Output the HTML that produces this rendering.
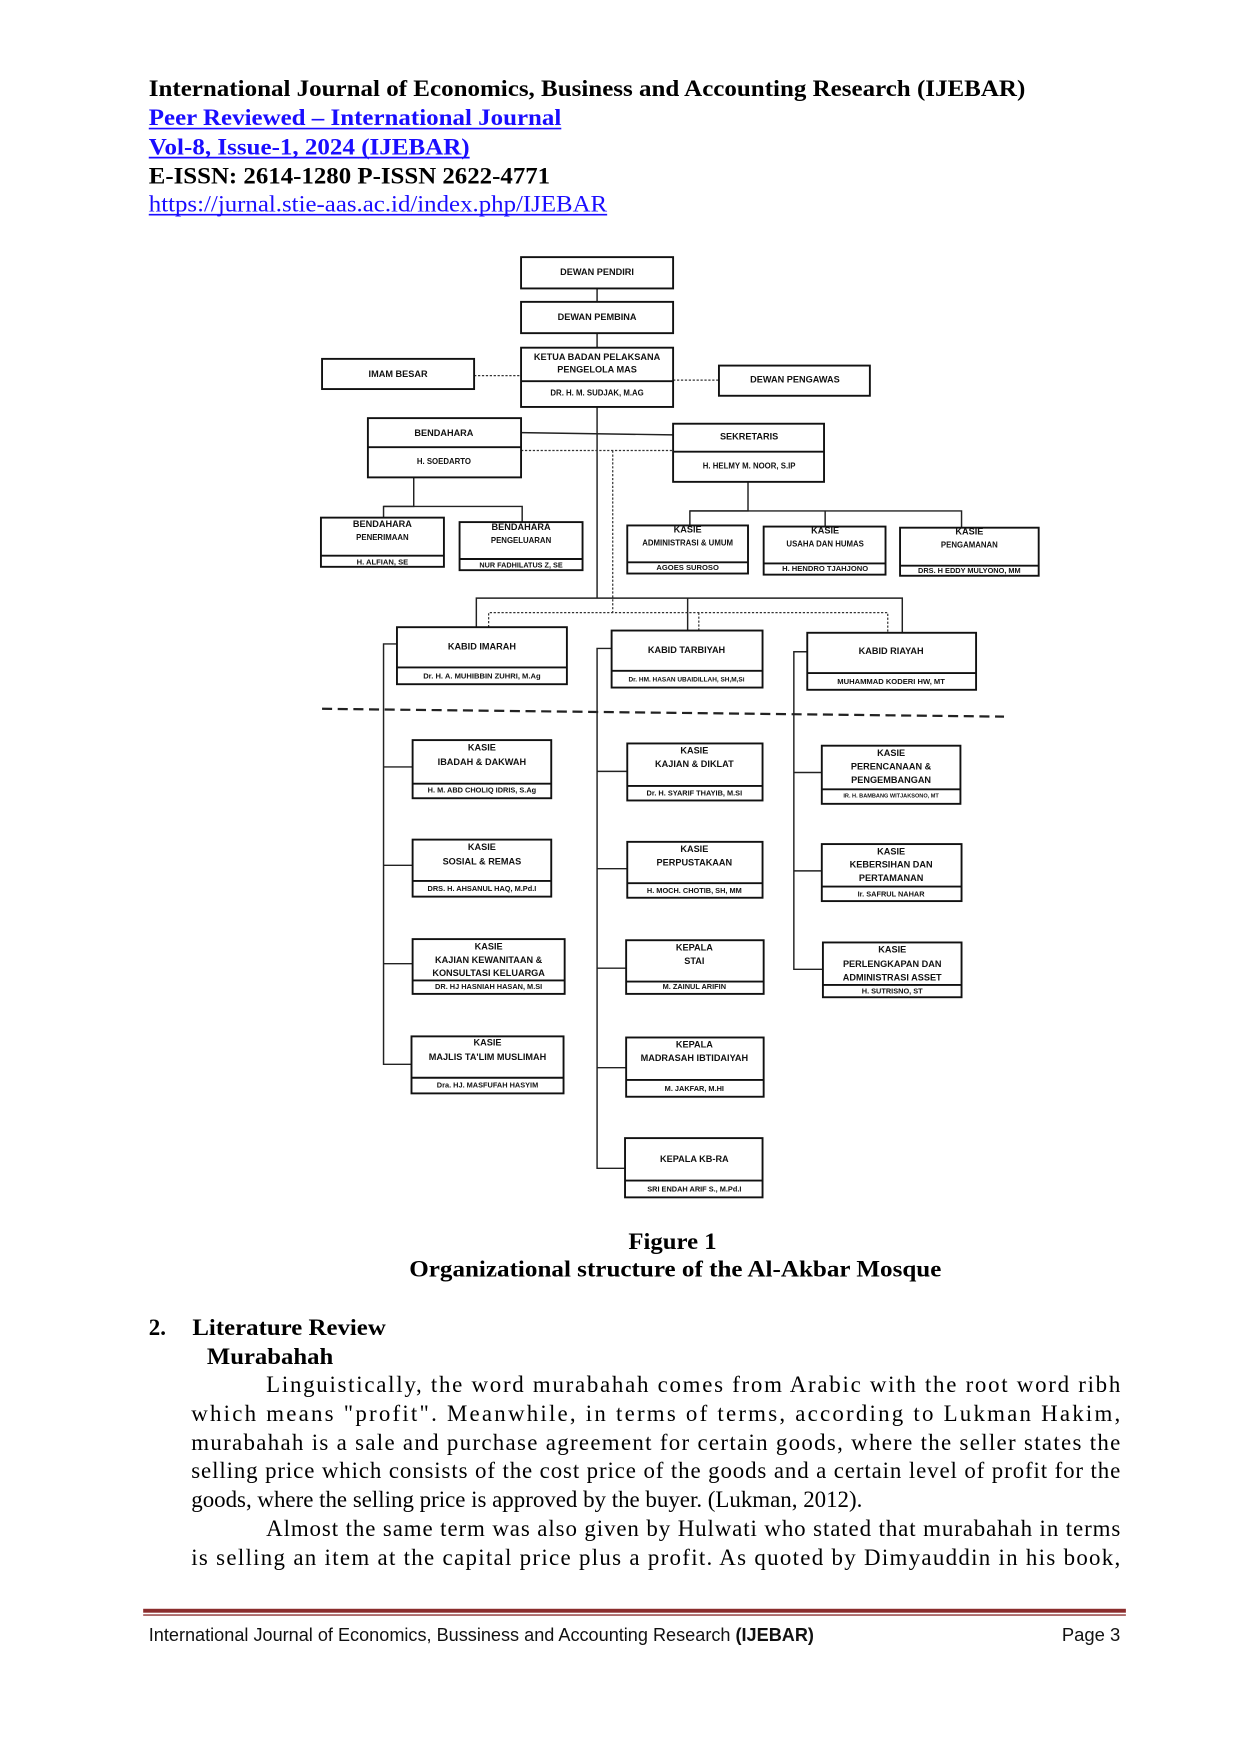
<!DOCTYPE html>
<html><head><meta charset="utf-8"><style>html,body{margin:0;padding:0;background:#fff}svg{display:block}</style></head>
<body>
<svg width="1240" height="1753" viewBox="0 0 1109 1568" xmlns="http://www.w3.org/2000/svg">
<rect width="1109" height="1568" fill="#fff"/>
<g font-family="Liberation Serif, serif" font-weight="bold" font-size="21">
<text x="133" y="86" textLength="784" lengthAdjust="spacingAndGlyphs">International Journal of Economics, Business and Accounting Research (IJEBAR)</text>
<text x="133" y="112" fill="#1a0dff" textLength="369" lengthAdjust="spacingAndGlyphs">Peer Reviewed – International Journal</text>
<text x="133" y="138" fill="#1a0dff" textLength="287" lengthAdjust="spacingAndGlyphs">Vol-8, Issue-1, 2024 (IJEBAR)</text>
<text x="133" y="164" textLength="359" lengthAdjust="spacingAndGlyphs">E-ISSN: 2614-1280 P-ISSN 2622-4771</text>
</g>
<text x="133" y="189" fill="#1a0dff" font-family="Liberation Serif, serif" font-size="21" textLength="410" lengthAdjust="spacingAndGlyphs">https://jurnal.stie-aas.ac.id/index.php/IJEBAR</text>
<g stroke="#1a0dff" stroke-width="1.5"><line x1="133" y1="115" x2="502" y2="115"/><line x1="133" y1="141" x2="420" y2="141"/><line x1="133" y1="192" x2="543" y2="192"/></g>

<g stroke="#222" stroke-width="1.3" fill="none">
<line x1="534" y1="258" x2="534" y2="270"/>
<line x1="534" y1="298" x2="534" y2="311"/>
<line x1="534" y1="364" x2="534" y2="535"/>
<line x1="466" y1="387" x2="602" y2="389"/>
<polyline points="370,427 370,453 343,453 343,463"/>
<polyline points="343,453 467,453 467,467"/>
<polyline points="669,431 669,457 617,457 617,470"/>
<polyline points="617,457 860,457 860,472"/>
<line x1="738" y1="457" x2="738" y2="471"/>
<polyline points="426,561 426,535 807,535 807,566"/>
<line x1="615" y1="535" x2="615" y2="564"/>
<polyline points="355,576 343,576 343,952 368,952"/>
<line x1="343" y1="686" x2="369" y2="686"/><line x1="343" y1="774" x2="369" y2="774"/><line x1="343" y1="862" x2="369" y2="862"/>
<polyline points="547,580 534,580 534,1045 559,1045"/>
<line x1="534" y1="690" x2="561" y2="690"/><line x1="534" y1="777" x2="561" y2="777"/><line x1="534" y1="866" x2="560" y2="866"/><line x1="534" y1="955" x2="560" y2="955"/>
<polyline points="722,583 710,583 710,867 736,867"/>
<line x1="710" y1="691" x2="735" y2="691"/><line x1="710" y1="779" x2="735" y2="779"/>
</g>
<g stroke="#333" stroke-width="1.1" stroke-dasharray="2,1.5" fill="none">
<line x1="424" y1="336" x2="466" y2="336"/>
<line x1="602" y1="340" x2="643" y2="340"/>
<line x1="466" y1="403" x2="602" y2="403"/>
<line x1="548" y1="403" x2="548" y2="548"/>
<polyline points="437,561 437,548 794,548 794,566"/>
<line x1="625" y1="548" x2="625" y2="564"/>
</g>
<line x1="288" y1="634" x2="898" y2="641" stroke="#222" stroke-width="2" stroke-dasharray="9,5"/>

<g stroke="#111" stroke-width="1.7" fill="#fff">
<rect x="466" y="230" width="136" height="28"/>
<rect x="466" y="270" width="136" height="28"/>
<rect x="466" y="311" width="136" height="53"/><line x1="466" y1="341" x2="602" y2="341"/>
<rect x="288" y="321" width="136" height="27"/>
<rect x="643" y="327" width="135" height="27"/>
<rect x="329" y="374" width="137" height="53"/><line x1="329" y1="400" x2="466" y2="400"/>
<rect x="602" y="379" width="135" height="52"/><line x1="602" y1="404" x2="737" y2="404"/>
<rect x="287" y="463" width="110" height="44"/><line x1="287" y1="497" x2="397" y2="497"/>
<rect x="411" y="467" width="110" height="43"/><line x1="411" y1="500" x2="521" y2="500"/>
<rect x="561" y="470" width="108" height="43"/><line x1="561" y1="503" x2="669" y2="503"/>
<rect x="683" y="471" width="109" height="43"/><line x1="683" y1="504" x2="792" y2="504"/>
<rect x="805" y="472" width="124" height="43"/><line x1="805" y1="506" x2="929" y2="506"/>
<rect x="355" y="561" width="152" height="51"/><line x1="355" y1="597" x2="507" y2="597"/>
<rect x="547" y="564" width="135" height="51"/><line x1="547" y1="600" x2="682" y2="600"/>
<rect x="722" y="566" width="151" height="51"/><line x1="722" y1="602" x2="873" y2="602"/>
<rect x="369" y="662" width="124" height="52"/><line x1="369" y1="701" x2="493" y2="701"/>
<rect x="369" y="751" width="124" height="51"/><line x1="369" y1="788" x2="493" y2="788"/>
<rect x="369" y="840" width="136" height="49"/><line x1="369" y1="877" x2="505" y2="877"/>
<rect x="368" y="927" width="136" height="51"/><line x1="368" y1="964" x2="504" y2="964"/>
<rect x="561" y="665" width="121" height="51"/><line x1="561" y1="703" x2="682" y2="703"/>
<rect x="561" y="753" width="121" height="50"/><line x1="561" y1="790" x2="682" y2="790"/>
<rect x="560" y="841" width="123" height="48"/><line x1="560" y1="878" x2="683" y2="878"/>
<rect x="560" y="928" width="123" height="53"/><line x1="560" y1="966" x2="683" y2="966"/>
<rect x="559" y="1018" width="123" height="53"/><line x1="559" y1="1056" x2="682" y2="1056"/>
<rect x="735" y="667" width="124" height="52"/><line x1="735" y1="706" x2="859" y2="706"/>
<rect x="735" y="755" width="125" height="51"/><line x1="735" y1="793" x2="860" y2="793"/>
<rect x="736" y="843" width="124" height="49"/><line x1="736" y1="881" x2="860" y2="881"/>
</g>

<g font-family="Liberation Sans, sans-serif" font-weight="bold" font-size="8.2" fill="#111" text-anchor="middle" dominant-baseline="middle">
<text x="534" y="244">DEWAN PENDIRI</text>
<text x="534" y="284">DEWAN PEMBINA</text>
<text x="534" y="320">KETUA BADAN PELAKSANA</text>
<text x="534" y="331">PENGELOLA MAS</text>
<text x="534" y="352" font-size="7">DR. H. M. SUDJAK, M.AG</text>
<text x="356" y="335">IMAM BESAR</text>
<text x="711" y="340">DEWAN PENGAWAS</text>
<text x="397" y="388">BENDAHARA</text>
<text x="397" y="413" font-size="7">H. SOEDARTO</text>
<text x="670" y="391">SEKRETARIS</text>
<text x="670" y="417" font-size="7">H. HELMY M. NOOR, S.IP</text>
<text x="342" y="469">BENDAHARA</text><text x="342" y="481" font-size="7">PENERIMAAN</text><text x="342" y="503" font-size="6.8">H. ALFIAN, SE</text>
<text x="466" y="472">BENDAHARA</text><text x="466" y="484" font-size="7">PENGELUARAN</text><text x="466" y="506" font-size="6.5">NUR FADHILATUS Z, SE</text>
<text x="615" y="474">KASIE</text><text x="615" y="486" font-size="7">ADMINISTRASI &amp; UMUM</text><text x="615" y="508" font-size="6.8">AGOES SUROSO</text>
<text x="738" y="475">KASIE</text><text x="738" y="487" font-size="7">USAHA DAN HUMAS</text><text x="738" y="509" font-size="6.8">H. HENDRO  TJAHJONO</text>
<text x="867" y="476">KASIE</text><text x="867" y="488" font-size="7">PENGAMANAN</text><text x="867" y="511" font-size="6.6">DRS. H EDDY MULYONO, MM</text>
<text x="431" y="579">KABID IMARAH</text><text x="431" y="605" font-size="6.8">Dr. H. A. MUHIBBIN ZUHRI, M.Ag</text>
<text x="614" y="582">KABID TARBIYAH</text><text x="614" y="608" font-size="5.8">Dr. HM. HASAN UBAIDILLAH, SH,M,Si</text>
<text x="797" y="583">KABID RIAYAH</text><text x="797" y="610" font-size="6.8">MUHAMMAD KODERI HW, MT</text>
<text x="431" y="669">KASIE</text><text x="431" y="682">IBADAH &amp; DAKWAH</text><text x="431" y="707" font-size="6.6">H. M. ABD CHOLIQ IDRIS, S.Ag</text>
<text x="431" y="758">KASIE</text><text x="431" y="771">SOSIAL &amp;  REMAS</text><text x="431" y="795" font-size="6.6">DRS. H. AHSANUL HAQ, M.Pd.I</text>
<text x="437" y="847">KASIE</text><text x="437" y="859">KAJIAN KEWANITAAN &amp;</text><text x="437" y="871">KONSULTASI KELUARGA</text><text x="437" y="883" font-size="6.6">DR. HJ HASNIAH HASAN, M.SI</text>
<text x="436" y="933">KASIE</text><text x="436" y="946">MAJLIS TA'LIM MUSLIMAH</text><text x="436" y="971" font-size="6.6">Dra. HJ. MASFUFAH HASYIM</text>
<text x="621" y="672">KASIE</text><text x="621" y="684">KAJIAN &amp; DIKLAT</text><text x="621" y="710" font-size="6.6">Dr. H. SYARIF THAYIB, M.SI</text>
<text x="621" y="760">KASIE</text><text x="621" y="772">PERPUSTAKAAN</text><text x="621" y="797" font-size="6.6">H. MOCH. CHOTIB, SH, MM</text>
<text x="621" y="848">KEPALA</text><text x="621" y="860">STAI</text><text x="621" y="883" font-size="6.6">M. ZAINUL ARIFIN</text>
<text x="621" y="935">KEPALA</text><text x="621" y="947">MADRASAH IBTIDAIYAH</text><text x="621" y="974" font-size="6.6">M. JAKFAR, M.HI</text>
<text x="621" y="1037">KEPALA KB-RA</text><text x="621" y="1064" font-size="6.6">SRI ENDAH ARIF S., M.Pd.I</text>
<text x="797" y="674">KASIE</text><text x="797" y="686">PERENCANAAN &amp;</text><text x="797" y="698">PENGEMBANGAN</text><text x="797" y="712" font-size="5">IR. H. BAMBANG WITJAKSONO, MT</text>
<text x="797" y="762">KASIE</text><text x="797" y="774">KEBERSIHAN DAN</text><text x="797" y="786">PERTAMANAN</text><text x="797" y="800" font-size="6.6">Ir. SAFRUL NAHAR</text>
<text x="798" y="850">KASIE</text><text x="798" y="863">PERLENGKAPAN DAN</text><text x="798" y="875">ADMINISTRASI ASSET</text><text x="798" y="887" font-size="6.6">H. SUTRISNO, ST</text>
</g>

<g font-family="Liberation Serif, serif" font-size="20.5" fill="#000">
<g font-weight="bold">
<text x="562" y="1117" textLength="79" lengthAdjust="spacingAndGlyphs">Figure 1</text>
<text x="366" y="1142" textLength="476" lengthAdjust="spacingAndGlyphs">Organizational structure of the Al-Akbar Mosque</text>
<text x="133" y="1194">2.</text>
<text x="172" y="1194" textLength="173" lengthAdjust="spacingAndGlyphs">Literature Review</text>
<text x="185" y="1220" textLength="113" lengthAdjust="spacingAndGlyphs">Murabahah</text>
</g>
<text x="238" y="1245" textLength="764" lengthAdjust="spacing">Linguistically, the word murabahah comes from Arabic with the root word ribh</text>
<text x="171" y="1271" textLength="831" lengthAdjust="spacing">which means "profit". Meanwhile, in terms of terms, according to Lukman Hakim,</text>
<text x="171" y="1297" textLength="831" lengthAdjust="spacing">murabahah is a sale and purchase agreement for certain goods, where the seller states the</text>
<text x="171" y="1322" textLength="831" lengthAdjust="spacing">selling price which consists of the cost price of the goods and a certain level of profit for the</text>
<text x="171" y="1348">goods, where the selling price is approved by the buyer. (Lukman, 2012).</text>
<text x="238" y="1374" textLength="764" lengthAdjust="spacing">Almost the same term was also given by Hulwati who stated that murabahah in terms</text>
<text x="171" y="1400" textLength="831" lengthAdjust="spacing">is selling an item at the capital price plus a profit. As quoted by Dimyauddin in his book,</text>
</g>

<rect x="128" y="1439" width="879" height="3.5" fill="#8b2d2d"/>
<rect x="128" y="1444" width="879" height="1.2" fill="#8b2d2d"/>
<g font-family="Liberation Sans, sans-serif" font-size="16.5" fill="#111">
<text x="133" y="1468" textLength="595" lengthAdjust="spacingAndGlyphs">International Journal of Economics, Bussiness and Accounting Research <tspan font-weight="bold">(IJEBAR)</tspan></text>
<text x="1002" y="1468" text-anchor="end">Page 3</text>
</g>
</svg>
</body></html>
